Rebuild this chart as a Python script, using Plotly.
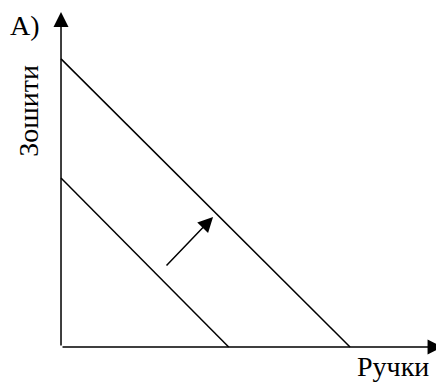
import plotly.graph_objects as go

# бюджетні лінії (Ручки, Зошити)
inner_x = [0, 5.8]
inner_y = [5.85, 0]
outer_x = [0, 10.0]
outer_y = [9.97, 0]

# стрілка зсуву
shift_from = [3.6, 2.77]
shift_to = [5.26, 4.5]

# кінці осей
x_end = 13.2
y_end = 11.59

x_label = "Ручки"
y_label = "Зошити"
panel_label = "А)"

fnt = dict(family="Liberation Serif", size=28, color="black")

fig = go.Figure()
fig.add_trace(go.Scatter(x=inner_x, y=inner_y, mode="lines", line=dict(color="black", width=1.5)))
fig.add_trace(go.Scatter(x=outer_x, y=outer_y, mode="lines", line=dict(color="black", width=1.5)))

# осі зі стрілками
fig.add_annotation(x=x_end, y=0, ax=0, ay=0, axref="x", ayref="y", text="",
                   showarrow=True, arrowhead=2, arrowsize=2, arrowwidth=1.5, arrowcolor="black")
fig.add_annotation(x=0, y=y_end, ax=0, ay=0, axref="x", ayref="y", text="",
                   showarrow=True, arrowhead=2, arrowsize=2, arrowwidth=1.5, arrowcolor="black")
# зсув
fig.add_annotation(x=shift_to[0], y=shift_to[1], ax=shift_from[0], ay=shift_from[1],
                   axref="x", ayref="y", text="", showarrow=True, arrowhead=2,
                   arrowsize=2, arrowwidth=1.5, arrowcolor="black")

fig.add_annotation(x=0, xref="paper", xanchor="left", y=1, yref="paper", yanchor="top",
                   text=panel_label, showarrow=False, font=fnt)
fig.add_annotation(x=-1.11, y=8.17, text=y_label, showarrow=False, font=fnt, textangle=-90)
fig.add_annotation(x=11.47, y=-0.69, text=x_label, showarrow=False, font=fnt)

# сторінка має відступ 8px, тому полотно менше
fig.update_layout(
    width=436, height=379,
    margin=dict(l=0, r=0, t=0, b=0),
    paper_bgcolor="white", plot_bgcolor="white",
    showlegend=False,
    font=fnt,
)
fig.update_xaxes(range=[-1.834, 13.25], visible=False)
fig.update_yaxes(range=[-1.384, 11.73], visible=False)

fig.write_html("out.html")
